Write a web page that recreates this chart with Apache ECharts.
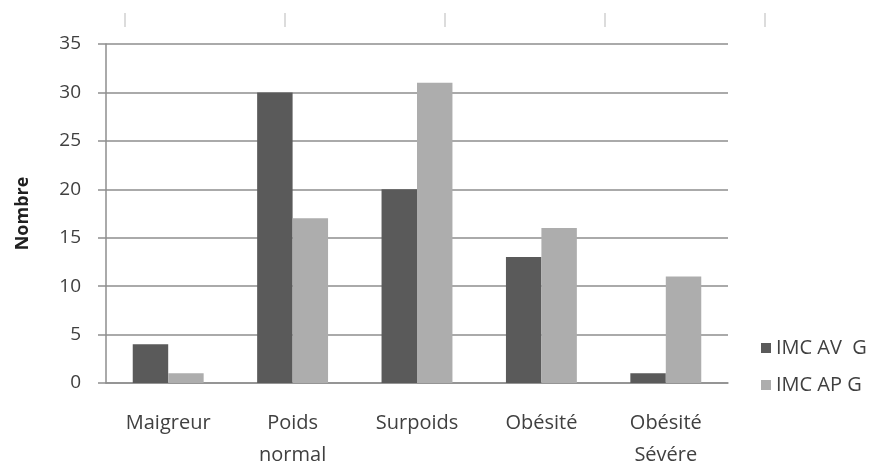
<!DOCTYPE html>
<html>
<head>
<meta charset="utf-8">
<script src="https://cdn.jsdelivr.net/npm/echarts@6/dist/echarts.min.js"></script>
<style>
html, body { margin: 0; padding: 0; background: #fff; }
#chart { width: 885px; height: 464px; }
</style>
</head>
<body>
<div id="chart"></div>
<script>
var categories = ['Maigreur', 'Poids\nnormal', 'Surpoids', 'Obésité', 'Obésité\nSévére'];
var imcAvG = [4, 30, 20, 13, 1];
var imcApG = [1, 17, 31, 16, 11];
var seriesNames = ['IMC AV  G', 'IMC AP G'];

var font = '"Open Sans", "DejaVu Sans", sans-serif';
var gridColor = '#8e8e8e';

// faint tick marks left over at the top of the picture
var topTicks = [125, 285, 445, 605, 765];
var graphics = [];
for (var i = 0; i < topTicks.length; i++) {
    graphics.push({
        type: 'line',
        shape: { x1: topTicks[i], y1: 13, x2: topTicks[i], y2: 27 },
        style: { stroke: '#d0d0d0', lineWidth: 1.5 }
    });
}

var myChart = echarts.init(document.getElementById('chart'));
var option = {
    animation: false,
    backgroundColor: '#fff',
    graphic: graphics,
    grid: { left: 106, right: 157, top: 44, bottom: 81, containLabel: false, outerBoundsMode: 'none' },
    legend: {
        orient: 'vertical',
        left: 756,
        top: 333,
        itemWidth: 10,
        itemHeight: 10,
        itemGap: 17,
        icon: 'rect',
        textStyle: { fontFamily: font, fontSize: 20, lineHeight: 20, color: '#404040' },
        data: seriesNames
    },
    xAxis: {
        type: 'category',
        data: categories,
        axisLine: { lineStyle: { color: gridColor, width: 1.5 } },
        axisTick: { show: false },
        axisLabel: {
            interval: 0,
            margin: 24,
            fontFamily: font,
            fontSize: 20,
            color: '#404040',
            lineHeight: 32
        }
    },
    yAxis: {
        type: 'value',
        min: 0,
        max: 35,
        interval: 5,
        name: 'Nombre',
        nameLocation: 'middle',
        nameRotate: 90,
        nameGap: 74,
        nameTextStyle: { fontFamily: font, fontSize: 18, fontWeight: 'bold', color: '#202020' },
        axisLine: { show: true, lineStyle: { color: gridColor, width: 1.5 } },
        axisTick: { show: true, length: 8, lineStyle: { color: gridColor, width: 1.5 } },
        axisLabel: { margin: 25, fontFamily: font, fontSize: 19, color: '#404040' },
        splitLine: { lineStyle: { color: gridColor, width: 1.5 } }
    },
    series: [
        {
            name: seriesNames[0],
            type: 'bar',
            data: imcAvG,
            barGap: '0%',
            barCategoryGap: '43%',
            itemStyle: { color: '#5a5a5a' }
        },
        {
            name: seriesNames[1],
            type: 'bar',
            data: imcApG,
            itemStyle: { color: '#adadad' }
        }
    ]
};
myChart.setOption(option);
</script>
</body>
</html>
